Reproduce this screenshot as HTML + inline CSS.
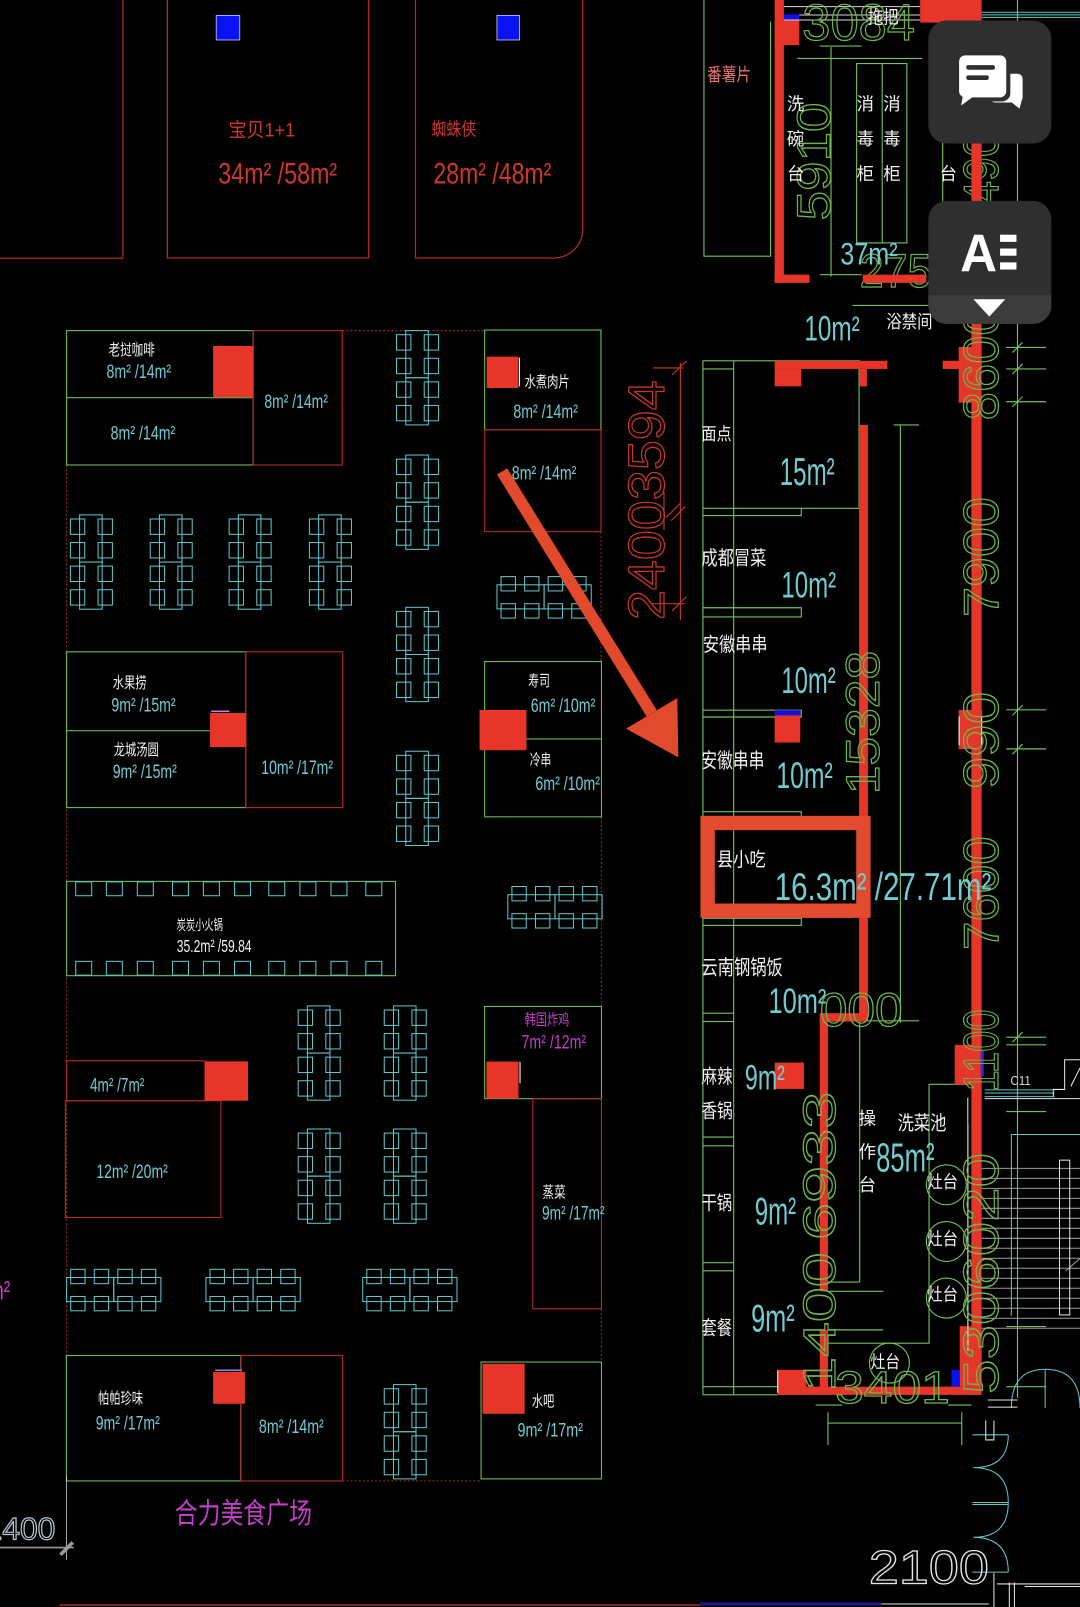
<!DOCTYPE html>
<html>
<head>
<meta charset="utf-8">
<style>
html,body{margin:0;padding:0;background:#000;}
svg{display:block;}
.cy{fill:#72cbd0;font-family:"Liberation Sans",sans-serif;}
.wt{fill:#f2f2f2;font-family:"Liberation Sans","Noto Sans CJK SC",sans-serif;}
.mg{fill:#c23fc6;font-family:"Liberation Sans","Noto Sans CJK SC",sans-serif;}
.rt{fill:#d0362c;font-family:"Liberation Sans","Noto Sans CJK SC",sans-serif;}
.pk{fill:#e87272;font-family:"Liberation Sans","Noto Sans CJK SC",sans-serif;}
.gn{fill:none;stroke:#6db54b;stroke-width:1.2;font-family:"Liberation Sans",sans-serif;}
.rn{fill:none;stroke:#c8352b;stroke-width:1.2;font-family:"Liberation Sans",sans-serif;}
.wn{fill:none;stroke:#e6e6e6;stroke-width:1.2;font-family:"Liberation Sans",sans-serif;}
</style>
</head>
<body>
<svg xmlns="http://www.w3.org/2000/svg" xmlns:xlink="http://www.w3.org/1999/xlink" width="1080" height="1607" viewBox="0 0 1054 1568" preserveAspectRatio="none">
<defs>
<g id="vg" fill="none" stroke="#5fc8cc" stroke-width="1">
<rect x="9" y="0" width="22" height="46"/><rect x="9" y="46" width="22" height="46"/>
<rect x="0" y="4" width="14" height="15"/><rect x="27" y="4" width="14" height="15"/>
<rect x="0" y="27" width="14" height="15"/><rect x="27" y="27" width="14" height="15"/>
<rect x="0" y="50" width="14" height="15"/><rect x="27" y="50" width="14" height="15"/>
<rect x="0" y="73" width="14" height="15"/><rect x="27" y="73" width="14" height="15"/>
</g>
<g id="hg" fill="none" stroke="#5fc8cc" stroke-width="1">
<rect x="0" y="8" width="46" height="23.5"/><rect x="46" y="8" width="46" height="23.5"/>
<rect x="4" y="0" width="14" height="14"/><rect x="27" y="0" width="14" height="14"/>
<rect x="50" y="0" width="14" height="14"/><rect x="73" y="0" width="14" height="14"/>
<rect x="4" y="26.5" width="14" height="14"/><rect x="27" y="26.5" width="14" height="14"/>
<rect x="50" y="26.5" width="14" height="14"/><rect x="73" y="26.5" width="14" height="14"/>
</g>
</defs>

<rect x="0" y="0" width="1054" height="1568" fill="#000"/>

<!-- ========== TOP LEFT SHOPS ========== -->
<g fill="none" stroke="#b52a22" stroke-width="1.2">
<path d="M0,252 H120 V0"/>
<rect x="163.3" y="-1" width="196.5" height="252.7"/>
<path d="M405.5,-1 V251.7 H540.7 A28,28 0 0 0 568.7,223.7 V-1"/>
</g>
<rect x="211" y="15" width="23" height="24" fill="#0a12f2" stroke="#c8c8ff" stroke-width="0.8"/>
<rect x="485" y="15" width="22" height="24" fill="#0a12f2" stroke="#c8c8ff" stroke-width="0.8"/>
<text class="rt" x="223" y="133" font-size="19" textLength="65" lengthAdjust="spacingAndGlyphs">宝贝1+1</text>
<text class="rt" x="213" y="179" font-size="29" textLength="116" lengthAdjust="spacingAndGlyphs">34m² /58m²</text>
<text class="rt" x="421" y="132" font-size="18" textLength="44" lengthAdjust="spacingAndGlyphs">蜘蛛侠</text>
<text class="rt" x="423" y="179" font-size="29" textLength="115" lengthAdjust="spacingAndGlyphs">28m² /48m²</text>

<!-- ========== FOOD COURT ========== -->
<g fill="none" stroke-width="1.1">
<!-- dotted outer -->
<g stroke="#8e2a22" stroke-dasharray="2 2">
<line x1="334" y1="322.6" x2="473" y2="322.6"/>
<line x1="65" y1="453.7" x2="65" y2="1445"/>
<line x1="586.5" y1="518.7" x2="586.5" y2="645.5"/>
<line x1="587" y1="797" x2="587" y2="982"/>
<line x1="587" y1="1277" x2="587" y2="1329"/>
<line x1="334" y1="1445" x2="470" y2="1445"/>
</g>
<g stroke="#6cb84e">
<rect x="65" y="322.6" width="182" height="131.1"/>
<line x1="65" y1="388" x2="247" y2="388"/>
<rect x="473" y="322" width="113.5" height="97.5"/>
<rect x="65" y="636" width="175" height="152"/>
<line x1="65" y1="713" x2="240" y2="713"/>
<rect x="473" y="645.5" width="114" height="151.5"/>
<line x1="473" y1="721" x2="587" y2="721"/>
<rect x="65" y="860" width="321" height="92"/>
<rect x="473" y="982" width="114" height="90"/>
<rect x="64.8" y="1322.6" width="170.2" height="122.4"/>
<rect x="469.5" y="1329" width="117.5" height="114"/>
</g>
<g stroke="#b52a22">
<rect x="247" y="322.6" width="87" height="131.1"/>
<rect x="473" y="419.5" width="113.5" height="99.2"/>
<rect x="240" y="636" width="94.5" height="152"/>
<rect x="65" y="1035" width="135" height="39"/>
<rect x="63.8" y="1074" width="151.8" height="114"/>
<rect x="520" y="1072" width="67" height="205"/>
<rect x="235" y="1322.6" width="99.4" height="122.4"/>
</g>
</g>
<!-- red fills -->
<g fill="#e8352a">
<rect x="208" y="337.6" width="39" height="49.9"/>
<rect x="475" y="348" width="31" height="30.6"/>
<rect x="205" y="695.7" width="35" height="33.3"/>
<rect x="468" y="692.7" width="45.8" height="39.3"/>
<rect x="200" y="1035.6" width="42" height="38.4"/>
<rect x="474.7" y="1035.8" width="31.3" height="36.2"/>
<rect x="208" y="1338.7" width="31" height="31"/>
<rect x="471" y="1330.7" width="41" height="48.8"/>
</g>
<g stroke="#ffffff" stroke-width="1" fill="none">
<line x1="507" y1="349" x2="507" y2="377"/>
<line x1="507.5" y1="1036" x2="507.5" y2="1057"/>
</g>
<line x1="206" y1="694" x2="224" y2="694" stroke="#c080e0" stroke-width="1.5"/>
<line x1="210" y1="1337" x2="236" y2="1337" stroke="#9080f0" stroke-width="1.5"/>

<!-- tables -->
<use xlink:href="#vg" x="387" y="322.6"/>
<use xlink:href="#vg" x="387" y="444"/>
<use xlink:href="#vg" x="387" y="592.6"/>
<use xlink:href="#vg" x="387" y="733"/>
<use xlink:href="#vg" x="68.7" y="502.4"/>
<use xlink:href="#vg" x="146.6" y="502.4"/>
<use xlink:href="#vg" x="223.6" y="502.4"/>
<use xlink:href="#vg" x="302" y="502.4"/>
<use xlink:href="#vg" x="291" y="981.5"/>
<use xlink:href="#vg" x="375" y="981.5"/>
<use xlink:href="#vg" x="291" y="1101.6"/>
<use xlink:href="#vg" x="375" y="1101.6"/>
<use xlink:href="#vg" x="375" y="1351"/>
<use xlink:href="#hg" x="485" y="562.6"/>
<use xlink:href="#hg" x="495.6" y="865"/>
<use xlink:href="#hg" x="65" y="1238.5"/>
<use xlink:href="#hg" x="201" y="1238.5"/>
<use xlink:href="#hg" x="354" y="1238.5"/>
<!-- hot pot chairs -->
<g fill="none" stroke="#5fc8cc" stroke-width="1">
<rect x="73.9" y="860.5" width="15.6" height="13.5"/><rect x="103.8" y="860.5" width="15.6" height="13.5"/>
<rect x="134" y="860.5" width="15.6" height="13.5"/><rect x="168.3" y="860.5" width="15.6" height="13.5"/>
<rect x="198.5" y="860.5" width="15.6" height="13.5"/><rect x="228.9" y="860.5" width="15.6" height="13.5"/>
<rect x="262.3" y="860.5" width="15.6" height="13.5"/><rect x="292.7" y="860.5" width="15.6" height="13.5"/>
<rect x="323" y="860.5" width="15.6" height="13.5"/><rect x="357" y="860.5" width="15.6" height="13.5"/>
<rect x="73.9" y="938" width="15.6" height="13.5"/><rect x="103.8" y="938" width="15.6" height="13.5"/>
<rect x="134" y="938" width="15.6" height="13.5"/><rect x="168.3" y="938" width="15.6" height="13.5"/>
<rect x="198.5" y="938" width="15.6" height="13.5"/><rect x="228.9" y="938" width="15.6" height="13.5"/>
<rect x="262.3" y="938" width="15.6" height="13.5"/><rect x="292.7" y="938" width="15.6" height="13.5"/>
<rect x="323" y="938" width="15.6" height="13.5"/><rect x="357" y="938" width="15.6" height="13.5"/>
</g>

<!-- food court labels -->
<text class="wt" x="106" y="346.5" font-size="15" textLength="45" lengthAdjust="spacingAndGlyphs">老挝咖啡</text>
<text class="cy" x="104" y="369" font-size="19" textLength="63" lengthAdjust="spacingAndGlyphs">8m² /14m²</text>
<text class="cy" x="108" y="429" font-size="19" textLength="63" lengthAdjust="spacingAndGlyphs">8m² /14m²</text>
<text class="cy" x="258" y="398" font-size="19" textLength="62" lengthAdjust="spacingAndGlyphs">8m² /14m²</text>
<text class="wt" x="512" y="377.5" font-size="15" textLength="44" lengthAdjust="spacingAndGlyphs">水煮肉片</text>
<text class="cy" x="501" y="408" font-size="19" textLength="63" lengthAdjust="spacingAndGlyphs">8m² /14m²</text>
<text class="cy" x="499.5" y="468" font-size="19" textLength="63" lengthAdjust="spacingAndGlyphs">8m² /14m²</text>
<text class="wt" x="110" y="671.5" font-size="15" textLength="33" lengthAdjust="spacingAndGlyphs">水果捞</text>
<text class="cy" x="108.7" y="694" font-size="19" textLength="62.7" lengthAdjust="spacingAndGlyphs">9m² /15m²</text>
<text class="wt" x="111" y="736.5" font-size="15" textLength="44" lengthAdjust="spacingAndGlyphs">龙城汤圆</text>
<text class="cy" x="110" y="759" font-size="19" textLength="62.6" lengthAdjust="spacingAndGlyphs">9m² /15m²</text>
<text class="cy" x="255" y="755" font-size="19" textLength="70" lengthAdjust="spacingAndGlyphs">10m² /17m²</text>
<text class="wt" x="515.6" y="669.5" font-size="15" textLength="21" lengthAdjust="spacingAndGlyphs">寿司</text>
<text class="cy" x="518" y="694.5" font-size="19" textLength="63" lengthAdjust="spacingAndGlyphs">6m² /10m²</text>
<text class="wt" x="517" y="746.5" font-size="15" textLength="21" lengthAdjust="spacingAndGlyphs">冷串</text>
<text class="cy" x="522.5" y="771" font-size="19" textLength="63" lengthAdjust="spacingAndGlyphs">6m² /10m²</text>
<text class="wt" x="172.5" y="907.5" font-size="14" textLength="45" lengthAdjust="spacingAndGlyphs">炭炭小火锅</text>
<text class="wt" x="172.5" y="928.7" font-size="17" textLength="73" lengthAdjust="spacingAndGlyphs">35.2m² /59.84</text>
<text class="cy" x="87.8" y="1065" font-size="19" textLength="53" lengthAdjust="spacingAndGlyphs">4m² /7m²</text>
<text class="cy" x="94" y="1149.6" font-size="19" textLength="69.7" lengthAdjust="spacingAndGlyphs">12m² /20m²</text>
<text class="mg" x="512" y="1000" font-size="15" textLength="43.6" lengthAdjust="spacingAndGlyphs">韩国炸鸡</text>
<text class="mg" x="509" y="1023" font-size="19" textLength="63" lengthAdjust="spacingAndGlyphs">7m² /12m²</text>
<text class="wt" x="529.5" y="1168.5" font-size="15" textLength="22.5" lengthAdjust="spacingAndGlyphs">蒸菜</text>
<text class="cy" x="529" y="1190" font-size="19" textLength="61" lengthAdjust="spacingAndGlyphs">9m² /17m²</text>
<text class="wt" x="95.6" y="1369.5" font-size="15" textLength="44" lengthAdjust="spacingAndGlyphs">帕帕珍味</text>
<text class="cy" x="93.4" y="1395" font-size="19" textLength="62.6" lengthAdjust="spacingAndGlyphs">9m² /17m²</text>
<text class="cy" x="252.7" y="1398" font-size="19" textLength="63.3" lengthAdjust="spacingAndGlyphs">8m² /14m²</text>
<text class="wt" x="519" y="1372.5" font-size="15" textLength="22" lengthAdjust="spacingAndGlyphs">水吧</text>
<text class="cy" x="505" y="1401.6" font-size="19" textLength="64" lengthAdjust="spacingAndGlyphs">9m² /17m²</text>
<text class="mg" x="170.5" y="1486" font-size="28" textLength="134" lengthAdjust="spacingAndGlyphs">合力美食广场</text>
<text class="mg" x="-12" y="1268" font-size="26" textLength="22" lengthAdjust="spacingAndGlyphs">m²</text>

<!-- bottom-left dimension -->
<text class="wn" x="-15" y="1502" font-size="31" textLength="69" lengthAdjust="spacingAndGlyphs" style="stroke:#b8c8d4">1400</text>
<line x1="0" y1="1510" x2="72" y2="1510" stroke="#9a9a9a" stroke-width="1.5"/>
<line x1="64.8" y1="1440" x2="64.8" y2="1522" stroke="#cfcfcf" stroke-width="0.8"/>
<line x1="59" y1="1517" x2="71" y2="1505" stroke="#9a9a9a" stroke-width="3.5"/>
<line x1="58" y1="1566" x2="683" y2="1566" stroke="#a02a22" stroke-width="1.5"/>
<line x1="683" y1="1565" x2="860" y2="1565" stroke="#1a1a90" stroke-width="3"/>
<line x1="860" y1="1565" x2="965" y2="1565" stroke="#8a8a8a" stroke-width="1.5"/>

<!-- ========== RED DIMENSION + ARROW ========== -->
<g stroke="#c8352b" stroke-width="1.1" fill="none">
<line x1="664" y1="354" x2="664" y2="605"/>
<line x1="637" y1="359" x2="667" y2="359"/>
<line x1="636" y1="589" x2="668" y2="589"/>
<line x1="656" y1="366" x2="670" y2="352"/>
<line x1="656" y1="596" x2="670" y2="582"/>
<line x1="650" y1="505" x2="664" y2="491"/>
<line x1="655" y1="508" x2="669" y2="494"/>
<line x1="648" y1="480" x2="648" y2="517"/>
</g>
<text class="rn" transform="translate(648,605) rotate(-90)" font-size="50" textLength="234" lengthAdjust="spacingAndGlyphs">24003594</text>

<polygon points="485,463 495,457 641,693 631,699" fill="#e24a2e"/>
<polygon points="611,711 661,681 662,739" fill="#e24a2e"/>

<!-- ========== TOP RIGHT (kitchen 1) ========== -->
<g fill="none" stroke="#72c257" stroke-width="1.1">
<path d="M687,0 V250 H752 V21"/>
<rect x="836" y="62" width="49" height="175"/>
<line x1="861" y1="62" x2="861" y2="237"/>
<line x1="778" y1="57" x2="900" y2="57"/>
<line x1="811" y1="46" x2="811" y2="270"/>
<line x1="800" y1="45" x2="841" y2="45"/>
<line x1="800" y1="268" x2="841" y2="268"/>
<line x1="920" y1="20" x2="920" y2="270"/>
<line x1="832" y1="298" x2="920" y2="298"/>
<line x1="993" y1="0" x2="993" y2="1364"/>
</g>
<g stroke="#dadada" stroke-width="1" fill="none">
<line x1="765" y1="6.5" x2="898" y2="6.5"/>
<line x1="765" y1="14.6" x2="898" y2="14.6"/>
<line x1="765" y1="19.5" x2="898" y2="19.5"/>
</g>
<rect x="765" y="14" width="15" height="5" fill="#1010e0"/>
<g stroke="#5fc8cc" stroke-width="1">
<line x1="958" y1="12" x2="1054" y2="12"/>
<line x1="958" y1="14.5" x2="1054" y2="14.5"/>
<line x1="958" y1="17" x2="1054" y2="17"/>
</g>
<text class="gn" x="783" y="39" font-size="50" textLength="110" lengthAdjust="spacingAndGlyphs">3084</text>
<text class="gn" transform="translate(810,215) rotate(-90)" font-size="46" textLength="115" lengthAdjust="spacingAndGlyphs">5910</text>
<text class="gn" x="839" y="280" font-size="46" textLength="70" lengthAdjust="spacingAndGlyphs">275</text>
<text class="gn" transform="translate(974,200) rotate(-90)" font-size="48" textLength="70" lengthAdjust="spacingAndGlyphs">490</text>

<g fill="#e8352a">
<rect x="756" y="0" width="9" height="276"/>
<rect x="756" y="20" width="24" height="24"/>
<rect x="756" y="268" width="34" height="8"/>
<rect x="842" y="268" width="62" height="8"/>
<rect x="898" y="0" width="58" height="22"/>
<rect x="948" y="0" width="10" height="1361"/>
</g>
<text class="pk" x="690" y="79" font-size="18" textLength="43" lengthAdjust="spacingAndGlyphs">番薯片</text>
<text class="wt" x="847" y="23" font-size="18" textLength="30" lengthAdjust="spacingAndGlyphs">拖把</text>
<text class="wt" x="768" y="107.5" font-size="17">洗</text>
<text class="wt" x="768" y="141.5" font-size="17">碗</text>
<text class="wt" x="768" y="175.5" font-size="17">台</text>
<text class="wt" x="836" y="107.5" font-size="17">消</text>
<text class="wt" x="836" y="141.5" font-size="17">毒</text>
<text class="wt" x="836" y="175.5" font-size="17">柜</text>
<text class="wt" x="862" y="107.5" font-size="17">消</text>
<text class="wt" x="862" y="141.5" font-size="17">毒</text>
<text class="wt" x="862" y="175.5" font-size="17">柜</text>
<text class="wt" x="917" y="175.5" font-size="17">台</text>
<text class="cy" x="820" y="258" font-size="31" textLength="56" lengthAdjust="spacingAndGlyphs">37m²</text>
<text class="cy" x="785" y="332" font-size="34" textLength="54" lengthAdjust="spacingAndGlyphs">10m²</text>
<text class="wt" x="865" y="320" font-size="18" textLength="45" lengthAdjust="spacingAndGlyphs">浴禁间</text>

<!-- ========== RIGHT KITCHEN COLUMN ========== -->
<g fill="none" stroke="#72c257" stroke-width="1.1">
<line x1="686" y1="352" x2="686" y2="1361"/>
<line x1="716" y1="352" x2="716" y2="1361"/>
<line x1="686" y1="352" x2="839" y2="352"/>
<line x1="686" y1="360" x2="716" y2="360"/>
<line x1="838.4" y1="352" x2="838.4" y2="496"/>
<line x1="686" y1="496" x2="838.4" y2="496"/>
<path d="M686,503 H782 V496"/>
<path d="M686,593 H782 V602 H686"/>
<path d="M686,693 H782 V699.6 H686"/>
<path d="M686,792 H782 V799 H686"/>
<path d="M686,896 H782 V903 H686"/>
<path d="M686,988.6 H716 M686,996.8 H716"/>
<path d="M686,1109.5 H716 M686,1118 H716"/>
<path d="M686,1232 H716 M686,1240 H716"/>
<path d="M686,1353 H759 M686,1361 H759"/>
<line x1="878.7" y1="414.6" x2="878.7" y2="998"/>
<line x1="872" y1="414.6" x2="897" y2="414.6"/>
<line x1="832" y1="996" x2="897" y2="996"/>
<line x1="839" y1="996" x2="839" y2="1251"/>
<line x1="808" y1="1251" x2="839" y2="1251"/>
<path d="M948,1058 H906.7 V1310.6 H808"/>
<line x1="808" y1="1260" x2="862" y2="1260"/>
<line x1="808" y1="1297.6" x2="862" y2="1297.6"/>
<circle cx="923.6" cy="1156" r="19.5"/>
<circle cx="923.6" cy="1211.4" r="19.5"/>
<circle cx="923.6" cy="1266.6" r="19.5"/>
<circle cx="868" cy="1330" r="19.5"/>
<line x1="808" y1="1388.5" x2="938.6" y2="1388.5"/>
<line x1="808" y1="1378" x2="808" y2="1410"/>
<line x1="938.6" y1="1378" x2="938.6" y2="1410"/>
<line x1="796" y1="1371" x2="822" y2="1371"/>
<line x1="925" y1="1371" x2="948" y2="1371"/>
<g>
<line x1="982" y1="339" x2="1021" y2="339"/><line x1="982" y1="360" x2="1021" y2="360"/>
<line x1="982" y1="392" x2="1021" y2="392"/><line x1="982" y1="692.6" x2="1021" y2="692.6"/>
<line x1="982" y1="730.7" x2="1021" y2="730.7"/><line x1="982" y1="1012" x2="1021" y2="1012"/>
<line x1="982" y1="1019.5" x2="1021" y2="1019.5"/><line x1="982" y1="1084.6" x2="1021" y2="1084.6"/>
<line x1="982" y1="1294.4" x2="1021" y2="1294.4"/><line x1="982" y1="1353" x2="1021" y2="1353"/>
<line x1="988" y1="344" x2="998" y2="334"/><line x1="988" y1="365" x2="998" y2="355"/>
<line x1="988" y1="397" x2="998" y2="387"/><line x1="988" y1="698" x2="998" y2="688"/>
<line x1="988" y1="736" x2="998" y2="726"/><line x1="988" y1="1017" x2="998" y2="1007"/>
</g>
</g>

<g fill="#e8352a">
<rect x="756" y="352" width="110" height="8"/>
<rect x="756" y="360" width="26" height="17"/>
<rect x="839" y="360" width="7" height="17"/>
<rect x="920" y="352" width="38" height="8"/>
<rect x="935.6" y="338.5" width="22" height="54.5"/>
<rect x="838.4" y="414.6" width="8.6" height="582.2"/>
<rect x="800" y="988.6" width="47" height="8.2"/>
<rect x="800" y="988.6" width="8" height="271.4"/>
<rect x="800" y="1297.6" width="8" height="63.4"/>
<rect x="756" y="693" width="25" height="31.5"/>
<rect x="935.6" y="692.7" width="23" height="38.3"/>
<rect x="756" y="1036.8" width="28.6" height="25.7"/>
<rect x="931.7" y="1019.5" width="26" height="39"/>
<rect x="936.6" y="1294" width="21.1" height="59"/>
<rect x="759" y="1353" width="198.7" height="8"/>
<rect x="759" y="1336.6" width="28" height="24.4"/>
</g>
<rect x="756" y="693" width="25" height="5" fill="#1010e0"/>
<rect x="957" y="1025" width="3" height="25" fill="#3030d0"/>
<rect x="928.5" y="1336.6" width="8.1" height="16.4" fill="#0a12f2"/>
<g stroke="#ffffff" stroke-width="1" fill="none">
<path d="M936,699 V727 M958,699 V727"/>
<line x1="944.6" y1="1097" x2="944.6" y2="1318"/>
<path d="M759,1337 V1359"/>
</g>

<!-- rotated green dims -->
<text class="gn" transform="translate(974,410) rotate(-90)" font-size="48" textLength="110" lengthAdjust="spacingAndGlyphs">8600</text>
<text class="gn" transform="translate(974,602) rotate(-90)" font-size="48" textLength="117" lengthAdjust="spacingAndGlyphs">7900</text>
<text class="gn" transform="translate(974,770) rotate(-90)" font-size="48" textLength="95" lengthAdjust="spacingAndGlyphs">990</text>
<text class="gn" transform="translate(974,927) rotate(-90)" font-size="48" textLength="111" lengthAdjust="spacingAndGlyphs">7600</text>
<text class="gn" transform="translate(974,1065) rotate(-90)" font-size="48" textLength="80" lengthAdjust="spacingAndGlyphs">1100</text>
<text class="gn" transform="translate(974,1360) rotate(-90)" font-size="48" textLength="235" lengthAdjust="spacingAndGlyphs">5306020</text>
<text class="gn" transform="translate(858,775) rotate(-90)" font-size="46" textLength="140" lengthAdjust="spacingAndGlyphs">15328</text>
<text class="gn" transform="translate(815,1210) rotate(-90)" font-size="44" textLength="145" lengthAdjust="spacingAndGlyphs">6933</text>
<text class="gn" transform="translate(815,1358) rotate(-90)" font-size="44" textLength="136" lengthAdjust="spacingAndGlyphs">1400</text>
<text class="gn" x="815" y="1369" font-size="44" textLength="112" lengthAdjust="spacingAndGlyphs">3401</text>
<text class="gn" x="800" y="1001" font-size="46" textLength="81" lengthAdjust="spacingAndGlyphs">000</text>

<!-- highlight box -->
<rect x="690.6" y="803" width="152" height="85.6" fill="none" stroke="#e24b30" stroke-width="14"/>

<!-- right column labels -->
<text class="wt" x="684.5" y="429.5" font-size="17" textLength="29.5" lengthAdjust="spacingAndGlyphs">面点</text>
<text class="cy" x="761" y="473" font-size="38" textLength="53.6" lengthAdjust="spacingAndGlyphs">15m²</text>
<text class="wt" x="684.5" y="551" font-size="19" textLength="63.5" lengthAdjust="spacingAndGlyphs">成都冒菜</text>
<text class="cy" x="762.6" y="583" font-size="36" textLength="53.4" lengthAdjust="spacingAndGlyphs">10m²</text>
<text class="wt" x="686" y="635" font-size="19" textLength="63" lengthAdjust="spacingAndGlyphs">安徽串串</text>
<text class="cy" x="762.6" y="676" font-size="36" textLength="53" lengthAdjust="spacingAndGlyphs">10m²</text>
<text class="wt" x="684.5" y="749" font-size="20" textLength="61.5" lengthAdjust="spacingAndGlyphs">安徽串串</text>
<text class="cy" x="757.7" y="768.8" font-size="36" textLength="55" lengthAdjust="spacingAndGlyphs">10m²</text>
<text class="wt" x="699.6" y="845" font-size="19" textLength="47.7" lengthAdjust="spacingAndGlyphs">县小吃</text>
<text class="cy" x="756" y="878" font-size="38" textLength="211.5" lengthAdjust="spacingAndGlyphs">16.3m² /27.71m²</text>
<text class="wt" x="684.5" y="951" font-size="20" textLength="79.5" lengthAdjust="spacingAndGlyphs">云南钢锅饭</text>
<text class="cy" x="750" y="988.5" font-size="34" textLength="56.5" lengthAdjust="spacingAndGlyphs">10m²</text>
<text class="wt" x="684.5" y="1056.5" font-size="19" textLength="30.5" lengthAdjust="spacingAndGlyphs">麻辣</text>
<text class="wt" x="684.5" y="1090.5" font-size="19" textLength="30.5" lengthAdjust="spacingAndGlyphs">香锅</text>
<text class="cy" x="727" y="1063" font-size="34" textLength="39" lengthAdjust="spacingAndGlyphs">9m²</text>
<text class="wt" x="684.5" y="1180" font-size="19" textLength="30" lengthAdjust="spacingAndGlyphs">干锅</text>
<text class="cy" x="736.6" y="1195" font-size="38" textLength="40.4" lengthAdjust="spacingAndGlyphs">9m²</text>
<text class="wt" x="684.5" y="1302" font-size="19" textLength="30" lengthAdjust="spacingAndGlyphs">套餐</text>
<text class="cy" x="733" y="1299" font-size="38" textLength="42.6" lengthAdjust="spacingAndGlyphs">9m²</text>
<text class="wt" x="876" y="1102" font-size="19" textLength="47.6" lengthAdjust="spacingAndGlyphs">洗菜池</text>
<text class="wt" x="838" y="1097" font-size="17">操</text>
<text class="wt" x="838" y="1130" font-size="17">作</text>
<text class="wt" x="838" y="1162" font-size="17">台</text>
<text class="cy" x="855" y="1143" font-size="40" textLength="57" lengthAdjust="spacingAndGlyphs">85m²</text>
<text class="wt" x="905" y="1159" font-size="17" textLength="30" lengthAdjust="spacingAndGlyphs">灶台</text>
<text class="wt" x="905" y="1214.6" font-size="17" textLength="30" lengthAdjust="spacingAndGlyphs">灶台</text>
<text class="wt" x="905" y="1269" font-size="17" textLength="30" lengthAdjust="spacingAndGlyphs">灶台</text>
<text class="wt" x="849.5" y="1334.6" font-size="17" textLength="29" lengthAdjust="spacingAndGlyphs">灶台</text>

<!-- right of wall: stairs, doors -->
<g stroke="#5fc8cc" stroke-width="1" fill="none">
<line x1="961" y1="1063.4" x2="1029" y2="1063.4"/>
<line x1="961" y1="1066.5" x2="1029" y2="1066.5"/>
<line x1="961" y1="1070" x2="1029" y2="1070"/>
<path d="M1054,1107 H987 V1284"/>
<path d="M984,1400 Q984,1432 950,1432 Q984,1432 984,1466 Q984,1500 950,1500 Q984,1500 984,1534"/>
<line x1="949" y1="1400" x2="984" y2="1400"/>
<line x1="949" y1="1466" x2="984" y2="1466"/>
<line x1="949" y1="1468" x2="984" y2="1468"/>
<line x1="949" y1="1534" x2="984" y2="1534"/>
<path d="M987,1374 Q987,1336 1020,1336 Q1054,1336 1054,1374"/>
<line x1="1020" y1="1336" x2="1020" y2="1374"/>
</g>
<g stroke="#9a9a9a" stroke-width="1">
<line x1="958" y1="1140" x2="1054" y2="1140"/><line x1="958" y1="1149.75" x2="1054" y2="1149.75"/>
<line x1="958" y1="1159.5" x2="1054" y2="1159.5"/><line x1="958" y1="1169.25" x2="1054" y2="1169.25"/>
<line x1="958" y1="1179" x2="1054" y2="1179"/><line x1="958" y1="1188.75" x2="1054" y2="1188.75"/>
<line x1="958" y1="1198.5" x2="1054" y2="1198.5"/><line x1="958" y1="1208.25" x2="1054" y2="1208.25"/>
<line x1="958" y1="1218" x2="1054" y2="1218"/><line x1="958" y1="1227.75" x2="1054" y2="1227.75"/>
<line x1="958" y1="1237.5" x2="1054" y2="1237.5"/><line x1="958" y1="1247.25" x2="1054" y2="1247.25"/>
<line x1="958" y1="1257" x2="1054" y2="1257"/><line x1="958" y1="1266.75" x2="1054" y2="1266.75"/>
<line x1="958" y1="1276.5" x2="1054" y2="1276.5"/><line x1="958" y1="1286.25" x2="1054" y2="1286.25"/>
<line x1="958" y1="1296" x2="1054" y2="1296"/>
<line x1="1040" y1="1240" x2="1054" y2="1228"/>
</g>
<g stroke="#e6e6e6" stroke-width="1" fill="none">
<rect x="1034" y="1132" width="10" height="151"/>
<line x1="961" y1="1072" x2="1054" y2="1072"/>
<path d="M1028,1070 V1063 H1039 V1034 H1054"/>
<line x1="1045" y1="1060" x2="1054" y2="1042"/>
<line x1="944.5" y1="1071" x2="944.5" y2="1097"/>
<path d="M962,1386 V1405 H970 V1386"/>
<line x1="964" y1="1366" x2="993" y2="1366"/>
<line x1="964" y1="1373" x2="993" y2="1373"/>
<path d="M970,1535 V1568 M985,1544 V1568 M990,1544 V1568 M973,1545.5 H1054 M1000,1548 H1054"/>
</g>
<text class="wt" x="986" y="1058.6" font-size="13" textLength="20" lengthAdjust="spacingAndGlyphs" style="fill:#d8d8d8">C11</text>
<text class="wn" x="848" y="1545" font-size="46" textLength="117" lengthAdjust="spacingAndGlyphs">2100</text>

<!-- ========== OVERLAY ICONS ========== -->
<rect x="906" y="20" width="120" height="120" rx="18" fill="#2f2f2f"/>
<rect x="966" y="72" width="32" height="28" rx="5" fill="#ffffff"/>
<polygon points="985,98 997,98 995,106" fill="#ffffff"/>
<rect x="932" y="50" width="54" height="49" rx="8" fill="#2f2f2f"/>
<rect x="936" y="54" width="46" height="41" rx="6" fill="#ffffff"/>
<polygon points="940,92 953,92 938,103" fill="#ffffff"/>
<rect x="943" y="63.5" width="28" height="4.5" rx="2" fill="#2f2f2f"/>
<rect x="943" y="73.5" width="22" height="4.5" rx="2" fill="#2f2f2f"/>

<rect x="906" y="196" width="120" height="120" rx="18" fill="#2f2f2f"/>
<path d="M906,288 H1026 V298 A18,18 0 0 1 1008,316 H924 A18,18 0 0 1 906,298 Z" fill="#3c3c3c"/>
<polygon points="950,292 981,292 965.5,309" fill="#ffffff"/>
<text x="937" y="265" font-size="52" font-weight="bold" fill="#ffffff" font-family="Liberation Sans, sans-serif" textLength="36" lengthAdjust="spacingAndGlyphs">A</text>
<rect x="976" y="229" width="16" height="7" fill="#ffffff"/>
<rect x="976" y="242.5" width="16" height="7" fill="#ffffff"/>
<rect x="976" y="256" width="16" height="7" fill="#ffffff"/>
</svg>
</body>
</html>
